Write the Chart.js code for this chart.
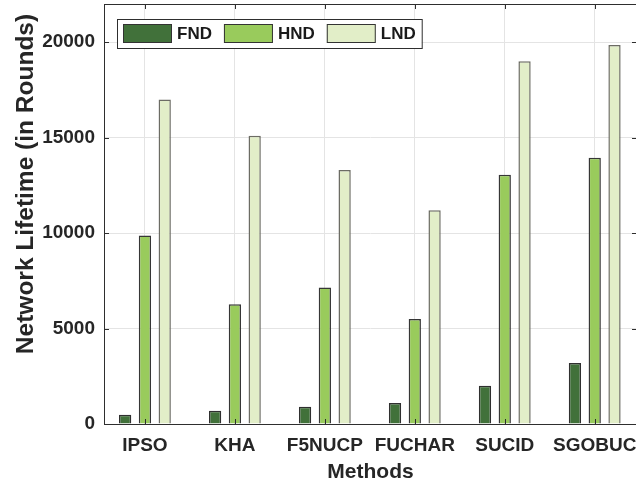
<!DOCTYPE html>
<html>
<head>
<meta charset="utf-8">
<script src="https://cdn.jsdelivr.net/npm/chart.js@4.4.1/dist/chart.umd.min.js"></script>
<style>
  html, body { margin: 0; padding: 0; background: #fff; overflow: hidden; }
  #wrap { width: 640px; height: 481px; }
</style>
</head>
<body>
<div id="wrap"><canvas id="grafico" width="640" height="481"></canvas></div>
<script>
// Datos del gráfico
const metodos = ["IPSO", "KHA", "F5NUCP", "FUCHAR", "SUCID", "SGOBUC"];
const fnd = [480, 700, 900, 1100, 2000, 3200];
const hnd = [9870, 6270, 7150, 5500, 13050, 13950];
const lnd = [17000, 15100, 13300, 11200, 19000, 19850];
const yTicks = [0, 5000, 10000, 15000, 20000];

const fuente = '"Liberation Sans", Arial, sans-serif';
const colorEje = "#2e2e2e";
const colorGrid = "#e4e4e4";

// cada serie se coloca en x = índice del método
const puntos = vals => vals.map((v, i) => ({ x: i, y: v }));

// sin relleno automático: el área del gráfico queda fija
const sinRelleno = s => { s.paddingTop = s.paddingBottom = s.paddingLeft = s.paddingRight = 0; };

// caja estilo MATLAB, marcas hacia dentro, leyenda y título del eje y
const cajaPlugin = {
  id: "caja",
  afterDatasetsDraw(chart) {
    const { ctx, chartArea: a, scales: { x, y } } = chart;
    ctx.save();
    ctx.strokeStyle = colorEje;
    ctx.lineWidth = 1;
    ctx.strokeRect(Math.round(a.left) + 0.5, Math.round(a.top) + 0.5,
                   Math.round(a.right - a.left), Math.round(a.bottom - a.top));
    ctx.beginPath();
    x.ticks.forEach(t => {
      const px = Math.round(x.getPixelForValue(t.value)) + 0.5;
      ctx.moveTo(px, a.bottom); ctx.lineTo(px, a.bottom - 5);
      ctx.moveTo(px, a.top); ctx.lineTo(px, a.top + 5);
    });
    yTicks.forEach(v => {
      const py = Math.round(y.getPixelForValue(v)) + 0.5;
      ctx.moveTo(a.left, py); ctx.lineTo(a.left + 5, py);
      ctx.moveTo(a.right, py); ctx.lineTo(a.right - 5, py);
    });
    ctx.stroke();

    // leyenda
    ctx.font = "bold 17px " + fuente;
    const sets = chart.data.datasets;
    const bx = a.left + 13, by = a.top + 15, bh = 29;
    let cx = bx + 6;
    const items = sets.map(ds => {
      const it = { ds, x: cx };
      cx += 49 + 5 + ctx.measureText(ds.label).width + 12;
      return it;
    });
    const bw = cx - 12 + 6 - bx;
    ctx.fillStyle = "#fff";
    ctx.fillRect(bx, by, bw, bh);
    ctx.strokeStyle = colorEje;
    ctx.strokeRect(bx + 0.5, by + 0.5, bw, bh);
    ctx.textBaseline = "middle";
    items.forEach(it => {
      ctx.fillStyle = it.ds.backgroundColor;
      ctx.fillRect(it.x, by + 5, 49, 19);
      ctx.strokeStyle = "#333";
      ctx.strokeRect(it.x + 0.5, by + 5.5, 48, 18);
      ctx.fillStyle = "#1a1a1a";
      ctx.textAlign = "left";
      ctx.fillText(it.ds.label, it.x + 49 + 5, by + bh / 2 + 1);
    });

    // título del eje y
    ctx.translate(26, 184);
    ctx.rotate(-Math.PI / 2);
    ctx.font = "bold 24.5px " + fuente;
    ctx.textAlign = "center";
    ctx.fillStyle = "#262626";
    ctx.fillText("Network Lifetime (in Rounds)", 0, 0);
    ctx.restore();
  }
};

const config = {
  type: "bar",
  data: {
    datasets: [
      { label: "FND", data: puntos(fnd), backgroundColor: "#41713a", borderColor: "#2f2f2f", borderWidth: 1.5 },
      { label: "HND", data: puntos(hnd), backgroundColor: "#99cb5c", borderColor: "#363636", borderWidth: 1.5 },
      { label: "LND", data: puntos(lnd), backgroundColor: "#e2eec8", borderColor: "#6c6c64", borderWidth: 1.5 }
    ]
  },
  options: {
    responsive: false,
    animation: false,
    categoryPercentage: 0.66,
    barPercentage: 0.62,
    layout: { autoPadding: false, padding: { left: 0, top: 4, right: 3, bottom: 0 } },
    plugins: { legend: { display: false }, tooltip: { enabled: false } },
    scales: {
      x: {
        type: "linear",
        offset: false,
        min: -0.455,
        max: 5.47,
        afterFit: s => { s.height = 57; sinRelleno(s); },
        afterBuildTicks: s => { s.ticks = metodos.map((m, i) => ({ value: i })); },
        grid: { color: colorGrid, drawTicks: false, offset: false },
        border: { display: false },
        ticks: {
          autoSkip: false,
          maxRotation: 0,
          padding: 10,
          color: "#262626",
          font: { family: fuente, size: 19, weight: "bold" },
          callback: v => metodos[v] ?? ""
        },
        title: {
          display: true,
          text: "Methods",
          color: "#262626",
          padding: { top: 0, bottom: -2 },
          font: { family: fuente, size: 21, weight: "bold", lineHeight: 1 }
        }
      },
      y: {
        min: 0,
        max: 22000,
        afterFit: s => { s.width = 104; sinRelleno(s); },
        afterBuildTicks: s => { s.ticks = yTicks.map(v => ({ value: v })); },
        grid: { color: colorGrid, drawTicks: false },
        border: { display: false },
        ticks: {
          padding: 9,
          color: "#262626",
          font: { family: fuente, size: 19, weight: "bold" },
          callback: v => String(v)
        }
      }
    }
  },
  plugins: [cajaPlugin]
};

const ctx = document.getElementById("grafico").getContext("2d");
new Chart(ctx, config);
</script>
</body>
</html>
